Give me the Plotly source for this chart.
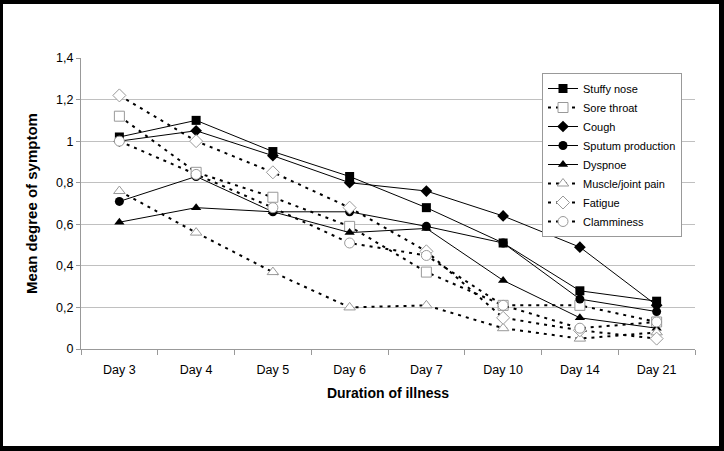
import plotly.graph_objects as go

days = ["Day 3", "Day 4", "Day 5", "Day 6", "Day 7", "Day 10", "Day 14", "Day 21"]

stuffy_nose = [1.02, 1.10, 0.95, 0.83, 0.68, 0.51, 0.28, 0.23]
sore_throat = [1.12, 0.85, 0.73, 0.59, 0.37, 0.21, 0.21, 0.13]
cough = [1.00, 1.05, 0.93, 0.80, 0.76, 0.64, 0.49, 0.21]
sputum = [0.71, 0.83, 0.66, 0.66, 0.59, 0.51, 0.24, 0.18]
dyspnoe = [0.61, 0.68, 0.66, 0.56, 0.58, 0.33, 0.15, 0.10]
muscle = [0.76, 0.56, 0.37, 0.20, 0.21, 0.10, 0.05, 0.08]
fatigue = [1.22, 1.00, 0.85, 0.68, 0.47, 0.15, 0.09, 0.05]
clamminess = [1.00, 0.84, 0.68, 0.51, 0.45, 0.21, 0.10, 0.13]

series = [
    ("Stuffy nose", stuffy_nose, "square", True),
    ("Sore throat", sore_throat, "square", False),
    ("Cough", cough, "diamond", True),
    ("Sputum production", sputum, "circle", True),
    ("Dyspnoe", dyspnoe, "triangle-up", True),
    ("Muscle/joint pain", muscle, "triangle-up", False),
    ("Fatigue", fatigue, "diamond", False),
    ("Clamminess", clamminess, "circle", False),
]

fig = go.Figure()
for name, vals, sym, solid in series:
    if solid:
        line = dict(color="black", width=1)
        marker = dict(symbol=sym, size=9, color="black")
    else:
        line = dict(color="black", width=2, dash="3px,5px")
        marker = dict(symbol=sym, size=10, color="white", line=dict(color="#999999", width=1))
    fig.add_trace(go.Scatter(x=days, y=vals, name=name, mode="lines+markers",
                             line=line, marker=marker))

# white page area inside black frame
L, R, T, B = 81, 29, 58, 102
W, H = 724, 451
pw, ph = W - L - R, H - T - B
def px_x(x):
    return (x - L) / pw
def px_y(y):
    return (H - B - y) / ph

fig.add_shape(type="rect", xref="paper", yref="paper", layer="below",
              x0=px_x(3), x1=px_x(719), y0=px_y(446), y1=px_y(4),
              fillcolor="white", line=dict(width=0))

fig.update_layout(
    width=W, height=H,
    margin=dict(l=L, r=R, t=T, b=B, pad=0),
    paper_bgcolor="black",
    plot_bgcolor="white",
    separators=", ",
    font=dict(family="Liberation Sans, Arial, sans-serif", color="black", size=12),
    showlegend=True,
    legend=dict(
        x=px_x(542), y=px_y(73), xanchor="left", yanchor="top",
        bgcolor="white", bordercolor="#999999", borderwidth=1,
        font=dict(size=11, color="black"),
        tracegroupgap=0,
    ),
    xaxis=dict(
        type="category", range=[-0.5, 7.5],
        showgrid=False, showline=True, linecolor="#999999", linewidth=1,
        ticks="outside", tickson="boundaries", ticklen=5, tickcolor="#999999",
        ticklabelstandoff=9,
        tickfont=dict(size=12.5, color="black"),
        title=dict(text="<b>Duration of illness</b>", font=dict(size=14, color="black"), standoff=12),
    ),
    yaxis=dict(
        range=[0, 1.4], dtick=0.2, tick0=0,
        showgrid=True, gridcolor="#c0c0c0", gridwidth=1,
        showline=True, linecolor="#999999", linewidth=1,
        zeroline=False,
        ticks="outside", ticklen=4, tickcolor="#999999",
        tickfont=dict(size=12.5, color="black"),
        title=dict(text="<b>Mean degree of symptom</b>", font=dict(size=15, color="black"), standoff=14),
    ),
)

fig.write_html("out.html", config={"displayModeBar": False},
               post_script="document.body.style.margin='0px';")
